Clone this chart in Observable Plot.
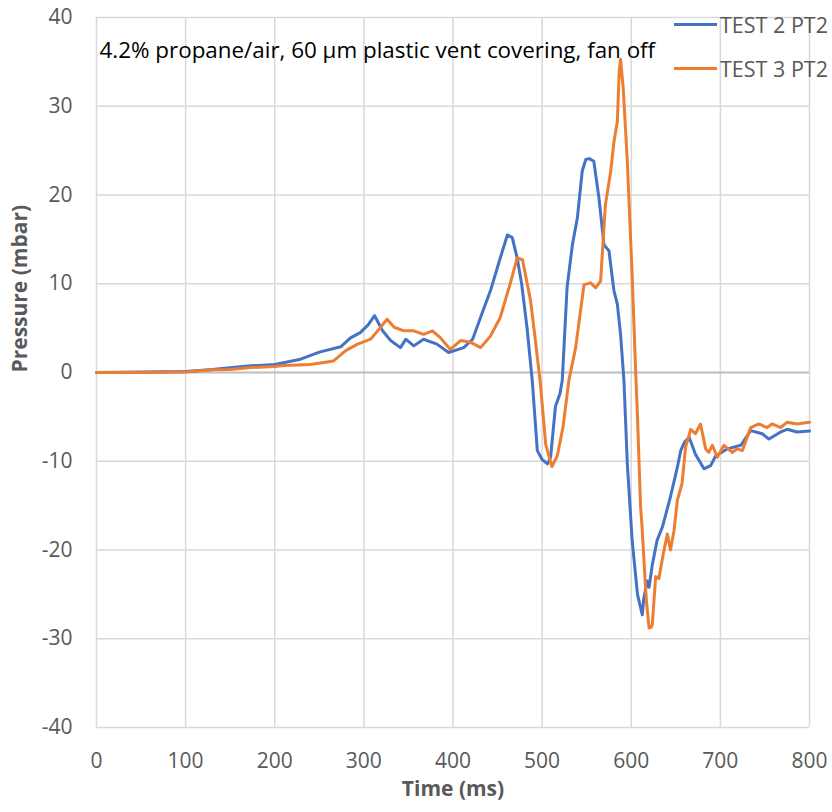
<!DOCTYPE html>
<html>
<head>
<meta charset="utf-8">
<script src="https://cdn.jsdelivr.net/npm/d3@7"></script>
<script src="https://cdn.jsdelivr.net/npm/@observablehq/plot@0.6"></script>
<style>
  body { margin: 0; background: #fff; }
  #wrap { position: relative; width: 832px; height: 812px; font-family: "Open Sans", sans-serif; }
  .leg { position: absolute; left: 674px; height: 30px; display: flex; align-items: center; font-size: 21.5px; color: #595959; white-space: nowrap; }
  .leg span.sw { display: inline-block; width: 43px; height: 3px; margin-right: 3px; }
</style>
</head>
<body>
<div id="wrap"></div>
<script>
const seriesNames = ["TEST 2 PT2", "TEST 3 PT2"];
const seriesColors = ["#4472C4", "#ED7D31"];
const chartTitle = "4.2% propane/air, 60 µm plastic vent covering, fan off";
const xTitle = "Time (ms)";
const yTitle = "Pressure (mbar)";
const xTicks = [0, 100, 200, 300, 400, 500, 600, 700, 800];
const yTicks = [-40, -30, -20, -10, 0, 10, 20, 30, 40];

const test2Time = [0,50,100,130,150,173,200,229,250,274,285,296,305,312,321,330,341,347,356,367,382,395,412,422,432,442,453,461,466.5,472,477,483,489,494.6,500,506,509.5,515,520,522.6,528,534,539.5,545,549,553,558,563.7,569.4,575,580.6,584.4,588,591.8,595.6,601,607,610.5,612.4,614,618,620,623.6,629,635,644,651.7,655.5,660,665,672,681.6,689,694.7,708,723,734,747,754.5,767.7,775,786,800];
const test2P = [0,0.05,0.1,0.35,0.55,0.75,0.9,1.5,2.3,2.9,3.9,4.5,5.4,6.4,4.7,3.6,2.8,3.75,3.0,3.75,3.2,2.25,2.8,3.75,6.5,9.2,12.9,15.5,15.2,12.9,10,5.1,-1,-8.8,-9.8,-10.3,-9.55,-3.8,-2.4,-0.9,9.6,14.4,17.4,22.7,24.0,24.1,23.8,19.7,14.4,13.7,9.2,7.7,4.3,-0.9,-10.3,-18.9,-25,-26.5,-27.3,-25.5,-23.5,-24.2,-21.7,-18.9,-17.4,-14.0,-10.7,-8.8,-7.8,-7.3,-9.2,-10.85,-10.5,-9.4,-8.6,-8.2,-6.55,-6.9,-7.5,-6.7,-6.4,-6.7,-6.6];

const test3Time = [0,50,100,130,150,173,200,210,240,266,280,293,307.5,318,326,334,345,356,367,377,386,397,408.5,420,431,442,453,465,472,478,487,492,498,504,511,517,523.5,530,537.6,547,554.5,560,565.6,571,577,580.6,584.4,586.5,588,591,595.5,601,605,607,610.5,612,616,617,620,622.5,623.6,627.4,631,636,640.5,644,648,651.7,657,661,666.7,672,677.7,683.5,687,691,696.6,704,713.5,719,724.7,734,743,752.5,758,767.7,775,786,800];
const test3P = [0,0,0.05,0.3,0.35,0.56,0.67,0.8,0.9,1.3,2.5,3.2,3.75,5,6.0,5.1,4.7,4.7,4.3,4.7,3.9,2.6,3.6,3.4,2.8,4.1,6.2,10.3,12.9,12.7,8.1,4,-1.2,-8.1,-10.6,-9.4,-6.1,-0.9,2.8,9.9,10.1,9.55,10.3,18.9,22.7,26,28.3,34,35.3,32,24,11,0,-5,-15.2,-17.2,-24.2,-25.7,-28.8,-28.7,-28.4,-23.0,-23.2,-20.4,-18.2,-20.0,-17.8,-14.4,-12.5,-8.4,-6.4,-6.9,-5.8,-8.6,-9.0,-8.2,-9.55,-8.2,-9.0,-8.6,-8.8,-6.2,-5.8,-6.2,-5.8,-6.2,-5.6,-5.8,-5.6];

const data = [
  ...test2Time.map((t, i) => ({t, p: test2P[i], s: seriesNames[0]})),
  ...test3Time.map((t, i) => ({t, p: test3P[i], s: seriesNames[1]}))
];

const chart = Plot.plot({
  width: 832,
  height: 812,
  marginLeft: 96,
  marginRight: 23,
  marginTop: 17,
  marginBottom: 85,
  style: {fontFamily: "'Open Sans', sans-serif", background: "#fff"},
  x: {domain: [0, 800]},
  y: {domain: [-40, 40]},
  color: {domain: seriesNames, range: seriesColors},
  marks: [
    Plot.gridX(xTicks, {stroke: "#d9d9d9", strokeOpacity: 1, strokeWidth: 1.5}),
    Plot.gridY(yTicks, {stroke: "#d9d9d9", strokeOpacity: 1, strokeWidth: 1.5}),
    Plot.ruleY([0], {stroke: "#bfbfbf", strokeWidth: 2}),
    Plot.axisX(xTicks, {tickSize: 0, tickPadding: 26, fontSize: 21, fill: "#595959", label: null, tickFormat: d => String(d)}),
    Plot.axisY(yTicks, {tickSize: 0, tickPadding: 24, fontSize: 21, fill: "#595959", label: null, tickFormat: d => String(d)}),
    Plot.line(data, {x: "t", y: "p", z: "s", stroke: "s", strokeWidth: 3, curve: "linear"}),
    Plot.text([chartTitle], {frameAnchor: "top-left", dx: 3, dy: 25, textAnchor: "start", fontSize: 22.4, fill: "#000"}),
    Plot.text([xTitle], {frameAnchor: "bottom", dy: 68, fontSize: 21, fontWeight: "bold", fill: "#595959"}),
    Plot.text([yTitle], {frameAnchor: "left", dx: -76, rotate: -90, fontSize: 21, fontWeight: "bold", fill: "#595959"})
  ]
});

const wrap = document.getElementById("wrap");
wrap.appendChild(chart);
const centers = [24.5, 68.5];
seriesNames.forEach((n, i) => {
  const row = document.createElement("div");
  row.className = "leg";
  row.style.top = (centers[i] - 15) + "px";
  row.innerHTML = `<span class="sw" style="background:${seriesColors[i]}"></span><span>${n}</span>`;
  wrap.appendChild(row);
});
</script>
</body>
</html>
